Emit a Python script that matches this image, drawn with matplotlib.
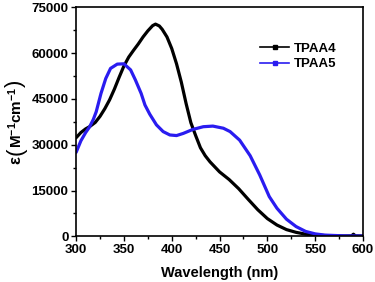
import matplotlib
matplotlib.use("Agg")
import matplotlib.pyplot as plt
from matplotlib.ticker import MultipleLocator
from matplotlib.lines import Line2D

plt.rcParams['font.family'] = ['Liberation Sans', 'DejaVu Sans']
plt.rcParams['mathtext.fontset'] = 'custom'
plt.rcParams['mathtext.rm'] = 'Liberation Sans:bold'
plt.rcParams['mathtext.it'] = 'Liberation Sans:bold'
plt.rcParams['mathtext.bf'] = 'Liberation Sans:bold'

wl4 = [300, 305, 310, 314, 320, 325, 330, 335, 340, 345, 350, 355, 360, 365, 370, 375,
       380, 383, 387, 390, 395, 400, 405, 410, 415, 420, 425, 430, 435, 440, 450, 460,
       470, 480, 490, 500, 510, 520, 530, 540, 550, 560, 580, 588, 590, 592, 600]
tpaa4 = [32300, 34000, 35200, 35900, 37300, 39300, 41800, 44700, 48200, 52100, 55800,
         58700, 60900, 63000, 65300, 67300, 69000, 69500, 68900, 67800, 65300, 61500,
         56500, 50500, 43500, 37200, 33000, 29000, 26400, 24400, 21100, 18600, 15600,
         12100, 8700, 5800, 3700, 2200, 1300, 700, 400, 250, 120, 150, 700, 150, 100]

wl5 = [300, 305, 310, 314, 318, 321, 326, 331, 336, 343, 350, 357, 362, 368, 372, 377,
       384, 391, 398, 405, 412, 422, 433, 443, 454, 461, 471, 482, 492, 502, 510, 520,
       530, 540, 550, 560, 580, 600]
tpaa5 = [27500, 31300, 34000, 35800, 38300, 40800, 46800, 51700, 55000, 56400, 56500,
         54500, 51200, 46800, 43000, 40000, 36500, 34300, 33200, 33000, 33700, 35000,
         35900, 36100, 35400, 34300, 31500, 26400, 20100, 13000, 9200, 5600, 3200, 1600,
         800, 400, 150, 100]

series_names = ['TPAA4', 'TPAA5']
colors = ['black', '#2a1cf0']
xticks = [300, 350, 400, 450, 500, 550, 600]
yticks = [0, 15000, 30000, 45000, 60000, 75000]

fig = plt.figure(figsize=(3.75, 2.82), dpi=100)
ax = fig.add_axes([0.203, 0.162, 0.765, 0.812])

for wl, vals, c in [(wl4, tpaa4, colors[0]), (wl5, tpaa5, colors[1])]:
    ax.plot(wl, vals, color=c, lw=2.3, solid_joinstyle='round', solid_capstyle='round')

ax.set_xlim(300, 600)
ax.set_ylim(0, 75000)
ax.set_xticks(xticks)
ax.set_yticks(yticks)
ax.xaxis.set_minor_locator(MultipleLocator(25))
ax.yaxis.set_minor_locator(MultipleLocator(7500))
ax.tick_params(which='both', direction='out', width=1, labelsize=9.5, pad=2)
ax.tick_params(which='major', length=3.5)
ax.tick_params(which='minor', length=2)
for lab in ax.get_xticklabels() + ax.get_yticklabels():
    lab.set_fontweight('bold')
for s in ax.spines.values():
    s.set_linewidth(1.2)

ax.set_xlabel('Wavelength (nm)', fontsize=10.5, fontweight='bold', labelpad=7)

# y label built from pieces so the parentheses can be large
renderer = fig.canvas.get_renderer()
yl_x = 0.042
ypix = 282 - 164
pieces = [('ε', 12, 'bold', 1.0), ('(', 16, 'normal', -0.5),
          (r'$\mathrm{M^{-1}cm^{-1}}$', 11, 'bold', -0.5), (')', 16, 'normal', 0.0)]
for s, size, weight, gap in pieces:
    t = fig.text(yl_x, ypix / 282, s, rotation=90, ha='center', va='bottom',
                 fontsize=size, fontweight=weight)
    bb = t.get_window_extent(renderer)
    ypix = bb.y1 + gap

handles = [Line2D([], [], color=c, lw=1.2, marker='s', markersize=2.5) for c in colors]
leg = ax.legend(handles, series_names, loc='upper left', bbox_to_anchor=(0.641, 0.847),
                frameon=False, borderaxespad=0, borderpad=0, numpoints=1,
                prop={'weight': 'bold', 'size': 9.5}, handlelength=2.2, labelspacing=0.25,
                handletextpad=0.35)

fig.savefig('out.png', dpi=100)
